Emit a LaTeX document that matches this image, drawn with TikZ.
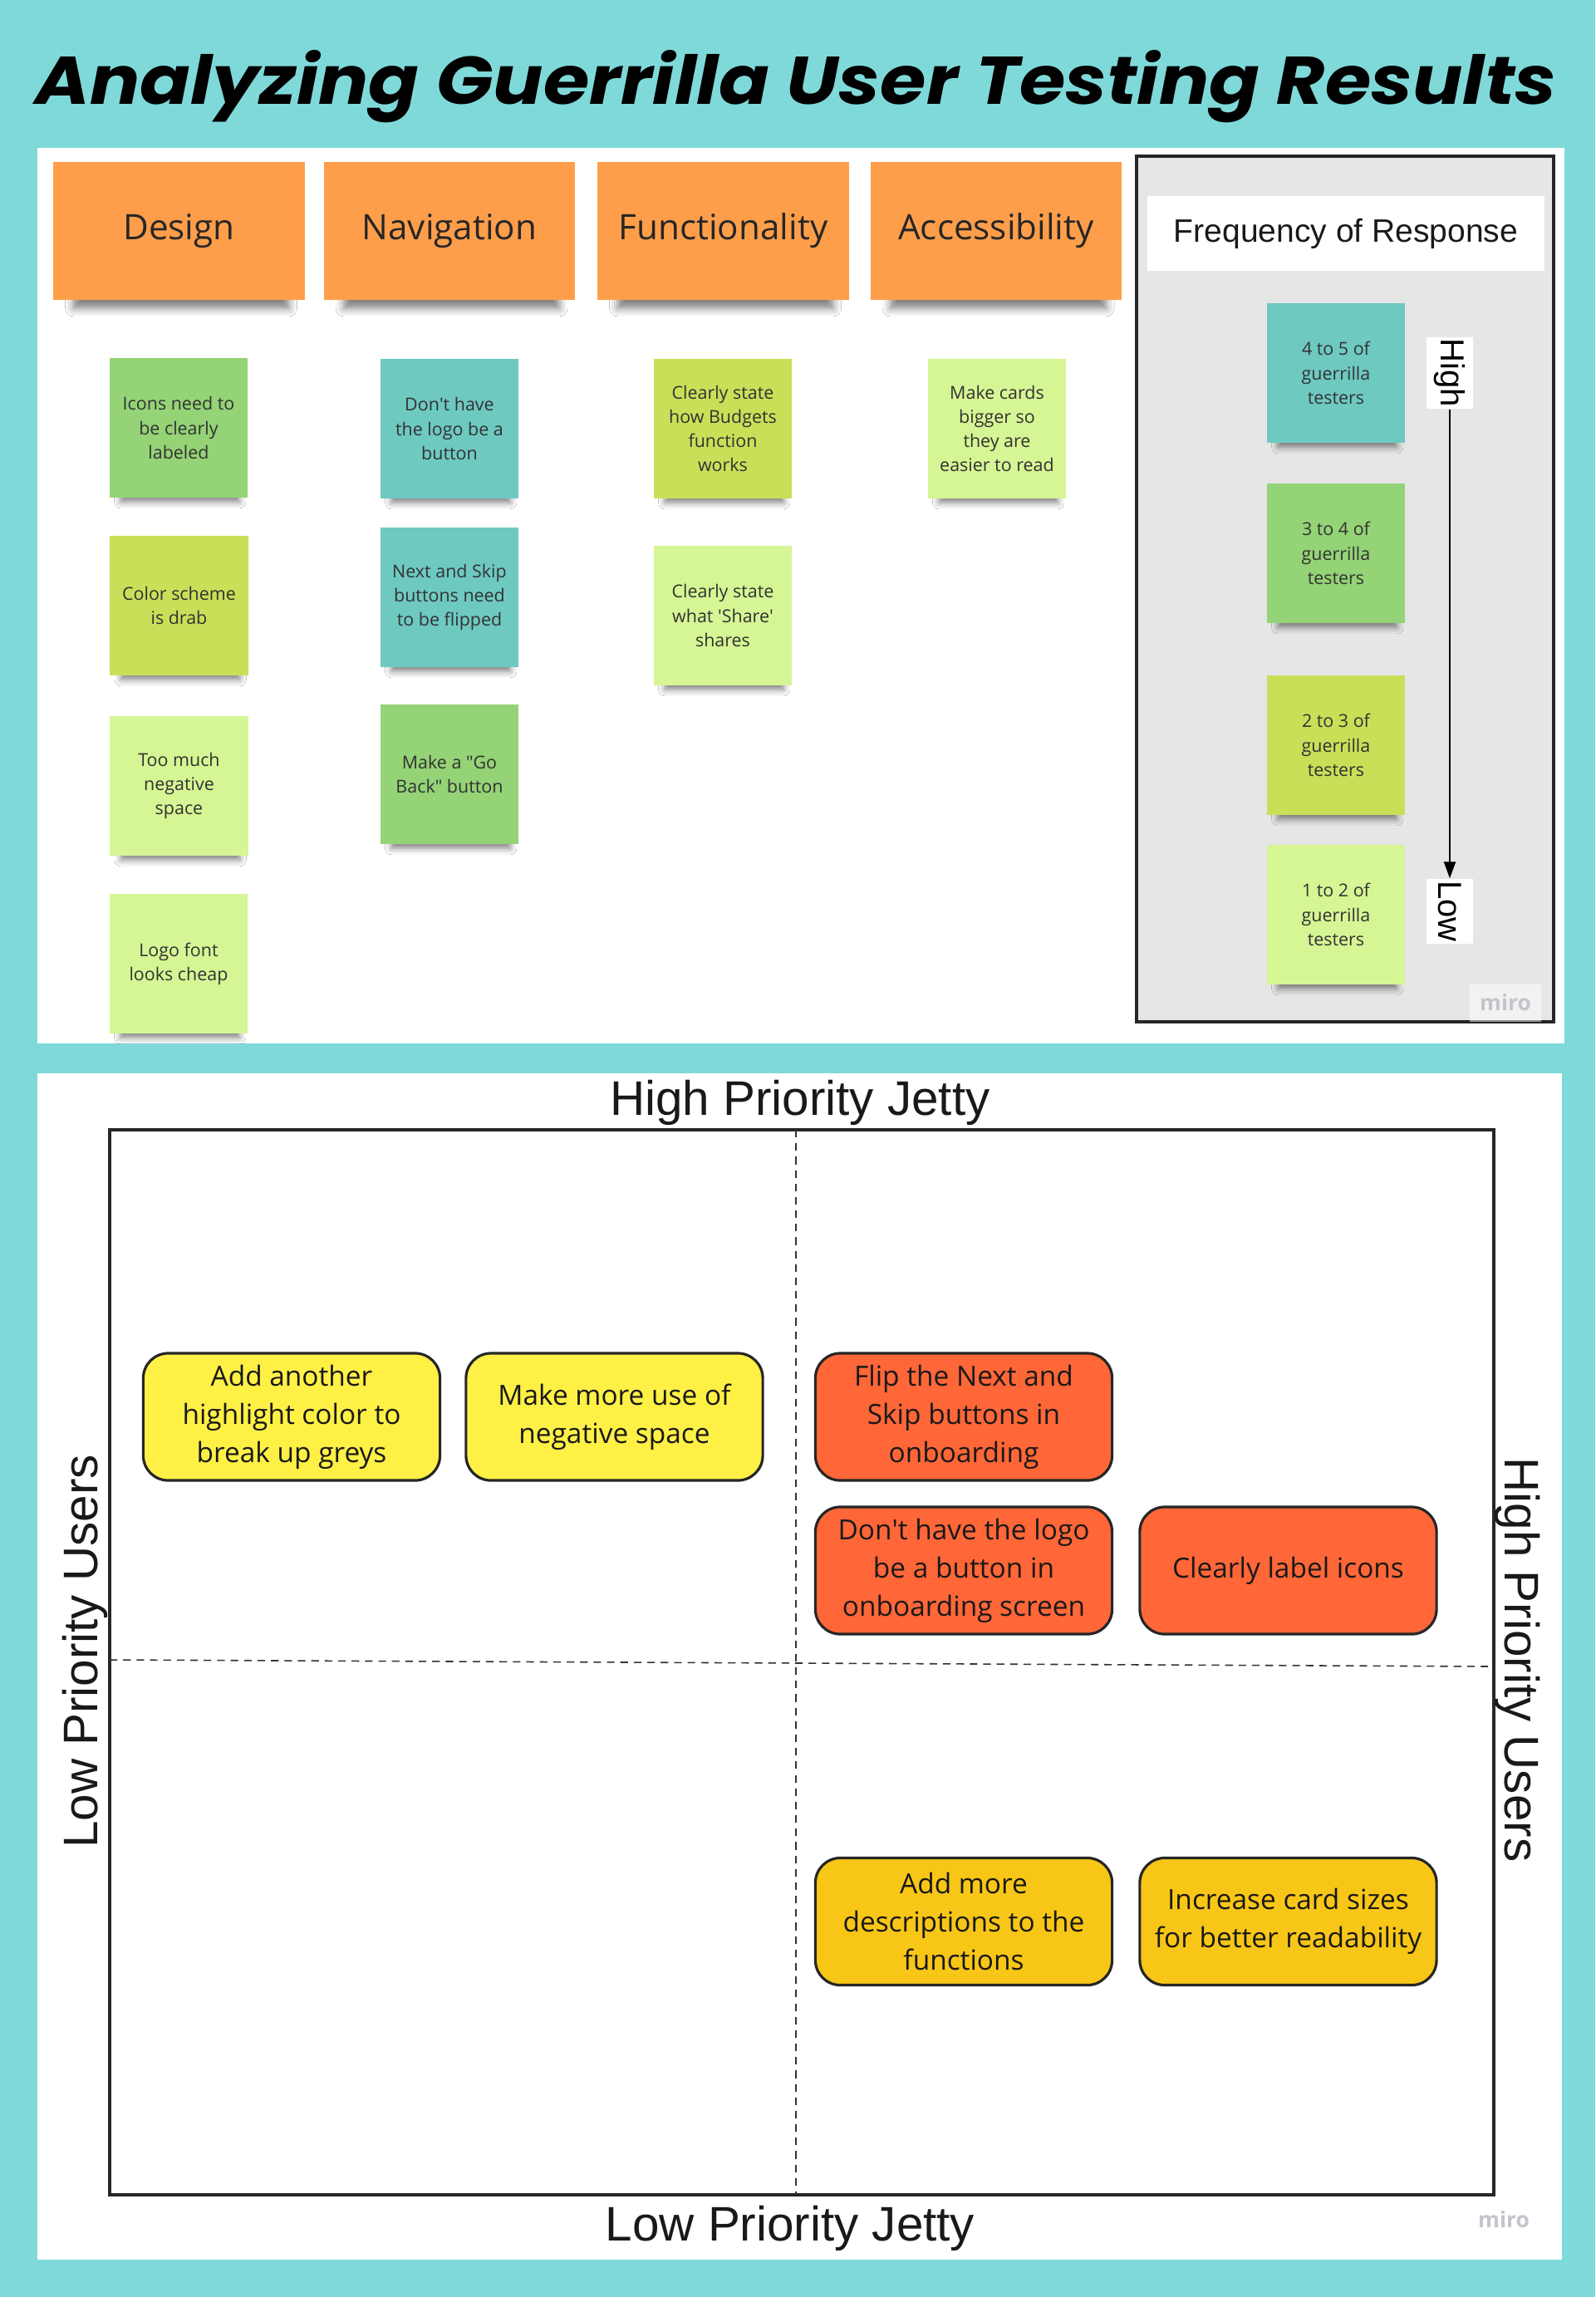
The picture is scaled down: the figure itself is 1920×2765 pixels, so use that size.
\documentclass[tikz,border=0pt]{standalone}
\usepackage{fontspec}
\setmainfont{Open Sans}
\newfontfamily\arialfont{Liberation Sans}
\newfontfamily\titlefont{Poppins}
\usepackage{xcolor}
\usetikzlibrary{arrows.meta,shadows.blur}

\definecolor{boardteal}{RGB}{128,217,217}
\definecolor{headorange}{RGB}{255,158,74}
\definecolor{notegreen}{RGB}{148,211,118}
\definecolor{noteteal}{RGB}{110,201,193}
\definecolor{notelime}{RGB}{202,223,88}
\definecolor{notepale}{RGB}{214,245,148}
\definecolor{freqgray}{RGB}{230,230,230}
\definecolor{prioyellow}{RGB}{255,240,70}
\definecolor{priored}{RGB}{255,102,56}
\definecolor{priogold}{RGB}{248,198,22}
\definecolor{notetext}{RGB}{50,50,50}
\definecolor{mirogray}{RGB}{196,196,206}

\begin{document}
\begin{tikzpicture}[x=0.01cm, y=-0.01cm, >={Triangle[length=0.2cm,width=0.14cm]}]
    \tikzstyle{header}=[fill=headorange, minimum width=3.02cm, minimum height=1.65cm, text=black!85,
        font=\fontsize{12}{14}\selectfont,
        blur shadow={shadow xshift=0.03cm, shadow yshift=-0.26cm, shadow scale=0.86, shadow opacity=50, shadow blur radius=0.11cm}]
    \tikzstyle{sticky}=[minimum width=1.66cm, minimum height=1.67cm, align=center, text=notetext,
        font=\fontsize{6.1}{8.3}\selectfont,
        blur shadow={shadow xshift=0.02cm, shadow yshift=-0.2cm, shadow scale=0.86, shadow opacity=50, shadow blur radius=0.09cm}]
    \tikzstyle{prio}=[draw=black!85, line width=0.9pt, rounded corners=0.3cm, minimum width=3.57cm,
        minimum height=1.53cm, align=center, text=black!90, font=\fontsize{9.5}{13.1}\selectfont]
    \tikzstyle{axislabel}=[text=black!90, inner sep=0pt, font=\arialfont\fontsize{16.6}{19}\selectfont]
    \tikzstyle{quadline}=[dash pattern=on 2.6pt off 2pt, line width=0.45pt, black!80]
    \tikzstyle{freqlabel}=[fill=white, rotate=-90, minimum height=0.56cm, inner sep=0pt,
        font=\arialfont\fontsize{11.4}{13}\selectfont]
    \tikzstyle{watermark}=[text=mirogray, font=\fontsize{7.5}{9}\selectfont\bfseries]

    \fill[boardteal] (0,0) rectangle (1920,2765);
    \node[anchor=base] (title) at (958,125)
        {\resizebox{18.3cm}{0.65cm}{\titlefont\bfseries\itshape Analyzing Guerrilla User Testing Results}};

    \fill[white] (45,178) rectangle (1883,1256);
    \fill[white] (45,1292) rectangle (1880,2720);

    \node[header] (design) at (215.5,278) {Design};
    \node[header] (navigation) at (541,278) {Navigation};
    \node[header] (functionality) at (870.5,278) {Functionality};
    \node[header] (accessibility) at (1199,278) {Accessibility};

    \node[sticky, fill=notegreen] (icons) at (215,515) {Icons need to\\be clearly\\labeled};
    \node[sticky, fill=notelime] (drab) at (215.5,729) {Color scheme\\is drab};
    \node[sticky, fill=notepale] (negspace) at (215.5,946) {Too much\\negative\\space};
    \node[sticky, fill=notepale] (logofont) at (215,1160) {Logo font\\looks cheap};
    \node[sticky, fill=noteteal] (logobtn) at (541,516) {Don\textquotesingle t have\\the logo be a\\button};
    \node[sticky, fill=noteteal] (nextskip) at (541,719) {Next and Skip\\buttons need\\to be flipped};
    \node[sticky, fill=notegreen] (goback) at (541,932) {Make a \textquotedbl Go\\Back\textquotedbl{} button};
    \node[sticky, fill=notelime] (budgets) at (870,516) {Clearly state\\how Budgets\\function\\works};
    \node[sticky, fill=notepale] (share) at (870,741) {Clearly state\\what \textquotesingle Share\textquotesingle\\shares};
    \node[sticky, fill=notepale] (cards) at (1200,516) {Make cards\\bigger so\\they are\\easier to read};

    \draw[fill=freqgray, line width=1pt, draw=black!85] (1368,188) rectangle (1870,1230);
    \node[fill=white, minimum width=4.77cm, minimum height=0.9cm, text=black!90,
        font=\arialfont\fontsize{11.1}{13}\selectfont] (freqtitle) at (1620,281) {Frequency of Response};
    \node[sticky, fill=noteteal] (freqA) at (1608,449) {4 to 5 of\\guerrilla\\testers};
    \node[sticky, fill=notegreen] (freqB) at (1608,666) {3 to 4 of\\guerrilla\\testers};
    \node[sticky, fill=notelime] (freqC) at (1608,897) {2 to 3 of\\guerrilla\\testers};
    \node[sticky, fill=notepale] (freqD) at (1608,1101) {1 to 2 of\\guerrilla\\testers};
    \node[freqlabel, minimum width=0.86cm] (high) at (1745,449) {High};
    \node[freqlabel, minimum width=0.78cm] (low) at (1745,1097) {Low};
    \draw[->, line width=0.6pt] (high) -- (low);
    \node[watermark, fill=white, fill opacity=0.5, text opacity=1, minimum width=0.84cm,
        minimum height=0.45cm] (miroA) at (1812,1207) {miro};

    \draw[line width=1pt, black!85] (132,1360) rectangle (1798,2642);
    \draw[quadline] (958,1360) -- (958,2642);
    \draw[quadline] (132,1998) -- (1798,2006);
    \node[axislabel, anchor=base] (hijetty) at (963,1342) {High Priority Jetty};
    \node[axislabel, anchor=base] (lojetty) at (951,2697) {Low Priority Jetty};
    \node[axislabel, anchor=base, rotate=90] (lousers) at (117,1988) {Low Priority Users};
    \node[axislabel, anchor=base, rotate=-90] (hiusers) at (1811,1998) {High Priority Users};

    \node[prio, fill=prioyellow] (greys) at (351,1705.5) {Add another\\highlight color to\\break up greys};
    \node[prio, fill=prioyellow] (negative) at (739.5,1705.5) {Make more use of\\negative space};
    \node[prio, fill=priored] (flip) at (1160,1705.5) {Flip the Next and\\Skip buttons in\\onboarding};
    \node[prio, fill=priored] (logoscreen) at (1160,1890.5) {Don\textquotesingle t have the logo\\be a button in\\onboarding screen};
    \node[prio, fill=priored] (label) at (1550.5,1890.5) {Clearly label icons};
    \node[prio, fill=priogold] (descr) at (1160,2313) {Add more\\descriptions to the\\functions};
    \node[prio, fill=priogold] (readability) at (1550.5,2313) {Increase card sizes\\for better readability};
    \node[watermark] (miroB) at (1810,2672) {miro};
\end{tikzpicture}
\end{document}
